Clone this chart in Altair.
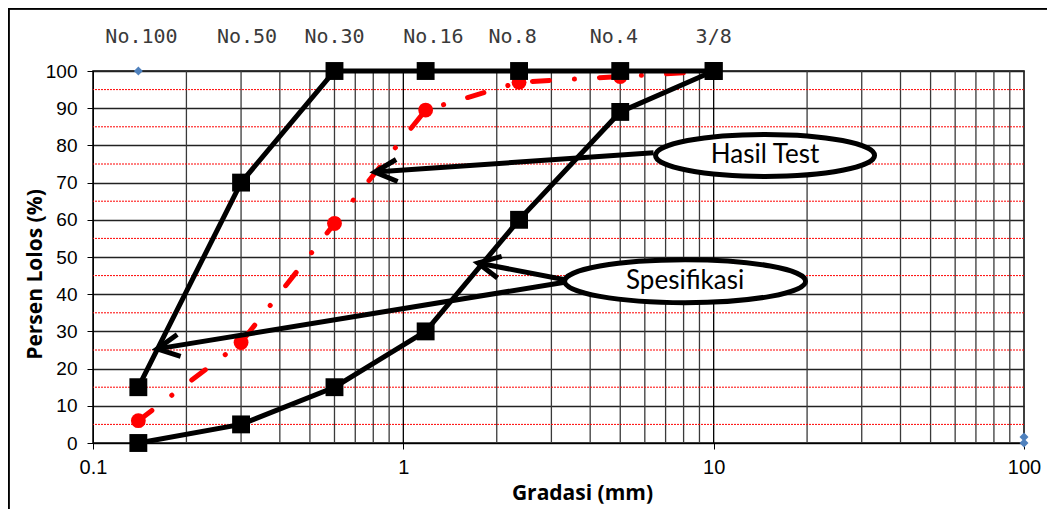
import altair as alt
import pandas as pd

# ---------------- data ----------------
sieve_labels = ["No.100", "No.50", "No.30", "No.16", "No.8", "No.4", "3/8"]
sieve_size = [0.14, 0.3, 0.6, 1.18, 2.36, 5.0, 10.0]
spec_upper = [15, 70, 100, 100, 100, 100, 100]
spec_lower = [0, 5, 15, 30, 60, 89, 100]
hasil_test = [6, 27, 59, 89.5, 97, 98.5, 100]

label_x = [0.1433, 0.3135, 0.6, 1.25, 2.25, 4.77, 10.0]

helper_x = [0.14, 100, 100]
helper_y = [100, 1.6, 0]

x_ticks = [0.1, 1, 10, 100]
x_minor = [0.2, 0.3, 0.4, 0.5, 0.6, 0.7, 0.8, 0.9,
           2, 3, 4, 5, 6, 7, 8, 9,
           20, 30, 40, 50, 60, 70, 80, 90]
x_major = [1, 10]
y_ticks = list(range(0, 101, 10))
y_half = [5, 15, 25, 35, 45, 55, 65, 75, 85, 95]

callout_text = ["Hasil Test", "Spesifikasi"]
callout_x = [14.64, 8.09]
callout_y = [77.3, 43.5]

arrow_x = [6.4, 3.35, 3.35]
arrow_y = [78.0, 43.8, 43.3]
arrow_x2 = [0.81, 1.74, 0.161]
arrow_y2 = [72.85, 48.4, 25.3]
arrow_angle = [356, 11, 351]

# ---------------- tables ----------------
df_series = pd.DataFrame({
    "x": sieve_size * 3,
    "y": spec_upper + spec_lower + hasil_test,
    "s": ["upper"] * 7 + ["lower"] * 7 + ["test"] * 7,
})
df_upper = df_series[df_series.s == "upper"]
df_lower = df_series[df_series.s == "lower"]
df_test = df_series[df_series.s == "test"]
df_labels = pd.DataFrame({"x": label_x, "t": sieve_labels, "y": [100] * 7})
df_helper = pd.DataFrame({"x": helper_x, "y": helper_y})
df_vminor = pd.DataFrame({"x": x_minor})
df_vmajor = pd.DataFrame({"x": x_major})
df_hhalf = pd.DataFrame({"y": y_half})
df_call = pd.DataFrame({"x": callout_x, "y": callout_y, "t": callout_text})
df_arrow = pd.DataFrame({"x": arrow_x, "y": arrow_y, "x2": arrow_x2,
                         "y2": arrow_y2, "a": arrow_angle})

xscale = alt.Scale(type="log", domain=[0.1, 100])
yscale = alt.Scale(domain=[0, 100])

x_axis = alt.Axis(
    values=x_ticks, format="~g", grid=False,
    tickSize=6, tickColor="#000000", domainColor="#000000",
    labelFont="Liberation Sans", labelFontSize=20, labelColor="#000000",
    labelPadding=8, labelFlush=False,
    title="Gradasi (mm)", titleFont="Open Sans", titleFontSize=21,
    titleFontWeight="bold", titleColor="#000000",
    titleX=489, titleY=50, titleAlign="center", titleBaseline="middle")

y_axis = alt.Axis(
    values=y_ticks, grid=True, gridColor="#222222", gridWidth=1.3,
    tickSize=6, tickColor="#000000", domainColor="#000000",
    labelFont="Liberation Sans", labelFontSize=19, labelColor="#000000",
    labelPadding=10,
    title="Persen Lolos (%)", titleFont="Open Sans", titleFontSize=21,
    titleFontWeight="bold", titleColor="#000000",
    titleX=-58, titleY=203, titleAngle=270, titleAlign="center",
    titleBaseline="middle")


def X(f="x"):
    return alt.X(f"{f}:Q", scale=xscale, axis=x_axis, title="Gradasi (mm)")


def Y(f="y"):
    return alt.Y(f"{f}:Q", scale=yscale, axis=y_axis, title="Persen Lolos (%)")


def ellipse_path(r):
    k = 0.5523
    return (f"M -1 0 C -1 {-r*k:.4f} {-k:.4f} {-r:.4f} 0 {-r:.4f} "
            f"C {k:.4f} {-r:.4f} 1 {-r*k:.4f} 1 0 "
            f"C 1 {r*k:.4f} {k:.4f} {r:.4f} 0 {r:.4f} "
            f"C {-k:.4f} {r:.4f} -1 {r*k:.4f} -1 0 Z")


chevron = "M 1 -0.5 L 0 0 L 1 0.5"

# ---------------- layers ----------------
vminor = alt.Chart(df_vminor).mark_rule(color="#3a3a3a", strokeWidth=1.3).encode(x=X())
vmajor = alt.Chart(df_vmajor).mark_rule(color="#000000", strokeWidth=1.3).encode(x=X())
hhalf = alt.Chart(df_hhalf).mark_rule(
    color="red", strokeWidth=1, strokeDash=[2, 1]
).encode(y=Y())

line_style = dict(color="#000000", strokeWidth=5)

test_line = alt.Chart(df_test).mark_line(
    color="#ff0000", strokeWidth=5, strokeDash=[17, 25, 0.1, 25], strokeCap="round"
).encode(x=X(), y=Y(), order="x:Q")
test_pts = alt.Chart(df_test).mark_point(
    shape="circle", filled=True, color="#ff0000", size=220, opacity=1
).encode(x=X(), y=Y())

upper_line = alt.Chart(df_upper).mark_line(**line_style).encode(x=X(), y=Y(), order="x:Q")
lower_line = alt.Chart(df_lower).mark_line(**line_style).encode(x=X(), y=Y(), order="x:Q")
spec_pts = alt.Chart(pd.concat([df_upper, df_lower])).mark_point(
    shape="square", filled=True, color="#000000", size=320, opacity=1
).encode(x=X(), y=Y())

helper_pts = alt.Chart(df_helper).mark_point(
    shape="diamond", filled=True, color="#4F81BD", size=80, opacity=1
).encode(x=X(), y=Y())

top_labels = alt.Chart(df_labels).mark_text(
    font="DejaVu Sans Mono", fontSize=20, color="#3a3a3a", dy=-34,
    baseline="middle", align="center"
).encode(x=X(), y=Y(), text="t:N")

arrow_lines = alt.Chart(df_arrow).mark_rule(color="#000000", strokeWidth=5).encode(
    x=X(), y=Y(), x2="x2:Q", y2="y2:Q")
arrow_heads = alt.Chart(df_arrow).mark_point(
    shape=chevron, filled=False, color="#000000", strokeWidth=5, size=1936,
    opacity=1, strokeJoin="miter", strokeCap="butt"
).encode(x=X("x2"), y=Y("y2"), angle=alt.Angle("a:Q", scale=None))

ell_hasil = alt.Chart(df_call[df_call.t == "Hasil Test"]).mark_point(
    shape=ellipse_path(0.192), filled=False, fill="#ffffff", fillOpacity=1,
    stroke="#000000", strokeWidth=5, size=219 ** 2, opacity=1
).encode(x=X(), y=Y())
ell_spes = alt.Chart(df_call[df_call.t == "Spesifikasi"]).mark_point(
    shape=ellipse_path(0.178), filled=False, fill="#ffffff", fillOpacity=1,
    stroke="#000000", strokeWidth=5, size=241 ** 2, opacity=1
).encode(x=X(), y=Y())
call_text = alt.Chart(df_call).mark_text(
    font="Lato", fontSize=26, color="#000000", baseline="middle", align="center"
).encode(x=X(), y=Y(), text="t:N")

frame_left = alt.Chart(df_helper).mark_rule(color="#000000", strokeWidth=3).encode(
    x=alt.value(-85), y=alt.value(-63), y2=alt.value(440))
frame_top = alt.Chart(df_helper).mark_rule(color="#000000", strokeWidth=3).encode(
    x=alt.value(-85), x2=alt.value(960), y=alt.value(-63))

chart = alt.layer(
    vminor, vmajor, hhalf,
    test_line, test_pts,
    upper_line, lower_line, spec_pts,
    helper_pts, top_labels,
    arrow_lines, arrow_heads,
    ell_hasil, ell_spes, call_text,
    frame_left, frame_top,
).properties(
    width=931, height=372,
    padding={"left": 85, "top": 63, "right": 23, "bottom": 66},
    autosize=alt.AutoSizeParams(type="none"),
    background="#ffffff",
).configure_view(stroke="#000000", strokeWidth=1.5)

chart.save("out.html", embed_options={"renderer": "svg", "actions": False})
